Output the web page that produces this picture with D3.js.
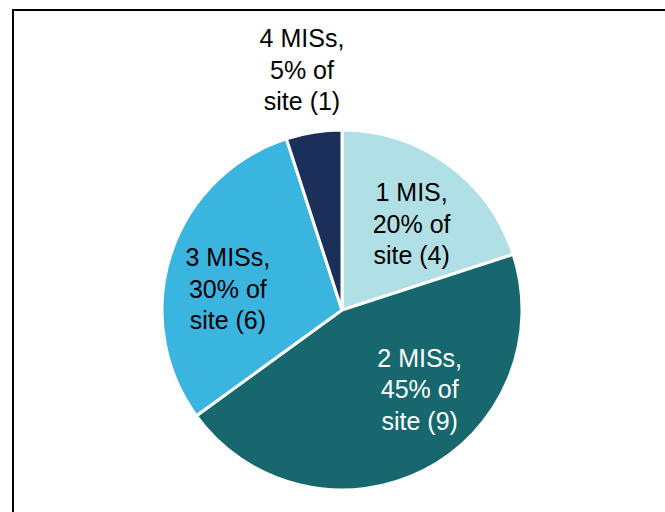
<!DOCTYPE html>
<html>
<head>
<meta charset="utf-8">
<script src="https://cdn.jsdelivr.net/npm/d3@7"></script>
<style>
  body { margin: 0; background: #fff; }
  svg { display: block; }
</style>
</head>
<body>
<div id="chart1"></div>
<script>
var categories = ["1 MIS", "2 MISs", "3 MISs", "4 MISs"],
    percents = [20, 45, 30, 5],
    counts = [4, 9, 6, 1],
    sliceColors = ["#b0dfe5", "#17686e", "#3ab5e0", "#1b2f5b"],
    labelColors = ["#000", "#fff", "#000", "#000"];

function c1() {
  var width = 665, height = 512,
      cx = 342, cy = 310, radius = 180;

  // excel "best fit" label spots, nudged off the plain centroid
  var nudge = [[4, 4], [27, -20], [-8, 13], [-2, 0]],
      labelR = [radius * 0.62, radius * 0.62, radius * 0.62, 243];

  var svg = d3.select("#chart1").append("svg")
    .attr("width", width)
    .attr("height", height);

  svg.append("rect")
    .attr("x", 13).attr("y", 10)
    .attr("width", width + 20).attr("height", height + 20)
    .attr("fill", "none")
    .attr("stroke", "#000")
    .attr("stroke-width", 2);

  var pie = d3.pie().sort(null).value(function(d) { return d; });
  var arcs = pie(percents);

  var arc = d3.arc().innerRadius(0).outerRadius(radius);

  var g = svg.append("g")
    .attr("transform", "translate(" + cx + "," + cy + ")");

  g.selectAll("path").data(arcs)
    .enter().append("path")
      .attr("d", arc)
      .attr("fill", function(d, i) { return sliceColors[i]; })
      .attr("stroke", "#fff")
      .attr("stroke-width", 3)
      .attr("stroke-linejoin", "miter");

  var labels = g.selectAll("text.lbl").data(arcs)
    .enter().append("text")
      .attr("class", "lbl")
      .attr("text-anchor", "middle")
      .attr("font-family", "'Liberation Sans', Arial, sans-serif")
      .attr("font-size", "25px")
      .attr("fill", function(d, i) { return labelColors[i]; })
      .attr("transform", function(d, i) {
        var c = d3.arc().innerRadius(labelR[i]).outerRadius(labelR[i]).centroid(d);
        return "translate(" + (c[0] + nudge[i][0]) + "," + (c[1] + 9 + nudge[i][1]) + ")";
      });

  labels.each(function(d, i) {
    var lines = [categories[i] + ",", percents[i] + "% of", "site (" + counts[i] + ")"];
    d3.select(this).selectAll("tspan").data(lines)
      .enter().append("tspan")
        .attr("x", 0)
        .attr("y", function(t, j) { return (j - 1) * 31.5; })
        .text(function(t) { return t; });
  });
}

c1();
</script>
</body>
</html>
